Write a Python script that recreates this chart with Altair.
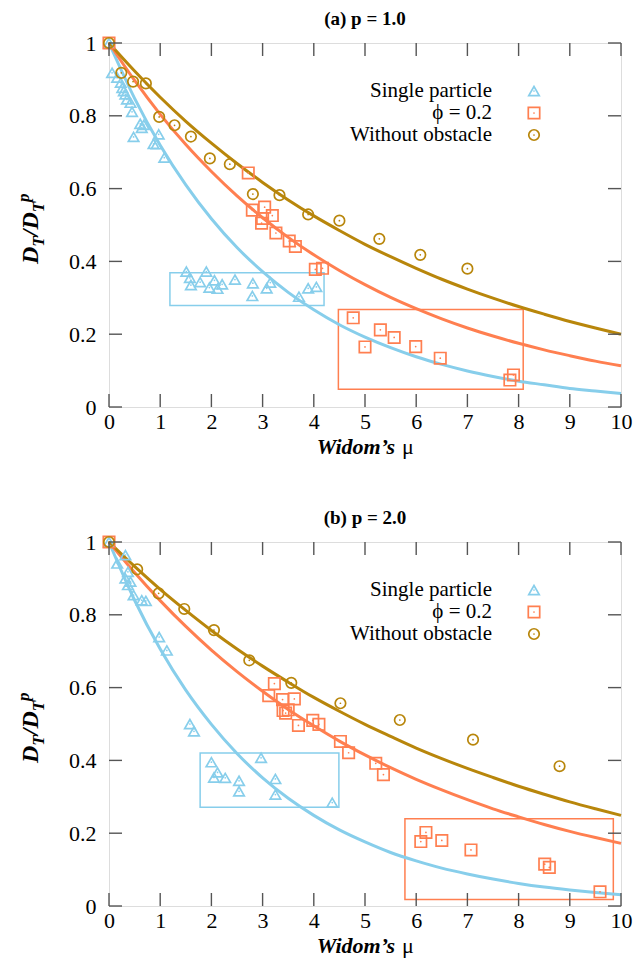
import altair as alt
import pandas as pd

FONT = "Liberation Serif, Times New Roman, Times, serif"
BLUE = "#87CEEB"
ORANGE = "#FF7F50"
GOLD = "#B8860B"
TICK = "#555555"
W, H = 512, 364

legend_labels = ["Single particle", "\u03d5 = 0.2", "Without obstacle"]
panel_titles = ["(a) p = 1.0", "(b) p = 2.0"]
x_ticks = [0, 1, 2, 3, 4, 5, 6, 7, 8, 9, 10]
y_ticks = [0, 0.2, 0.4, 0.6, 0.8, 1.0]

# fitted curves
curve_x = [0, 0.5, 1, 1.5, 2, 2.5, 3, 3.5, 4, 4.5, 5, 5.5, 6, 6.5, 7, 7.5, 8, 8.5, 9, 9.5, 10]
a_curve_single = [1.0, 0.848, 0.719, 0.610, 0.517, 0.438, 0.372, 0.315, 0.267, 0.226, 0.192,
                  0.163, 0.138, 0.117, 0.099, 0.084, 0.071, 0.061, 0.051, 0.044, 0.037]
a_curve_phi = [1.0, 0.897, 0.804, 0.721, 0.647, 0.580, 0.520, 0.466, 0.418, 0.375, 0.336,
               0.301, 0.270, 0.242, 0.217, 0.195, 0.175, 0.157, 0.141, 0.126, 0.113]
a_curve_free = [1.0, 0.923, 0.851, 0.785, 0.725, 0.669, 0.617, 0.569, 0.525, 0.485, 0.447,
                0.413, 0.381, 0.351, 0.324, 0.299, 0.276, 0.255, 0.235, 0.217, 0.200]
b_curve_single = [1.0, 0.840, 0.706, 0.593, 0.499, 0.419, 0.352, 0.296, 0.249, 0.209, 0.176,
                  0.147, 0.124, 0.104, 0.088, 0.074, 0.062, 0.052, 0.044, 0.037, 0.031]
b_curve_phi = [1.0, 0.916, 0.839, 0.768, 0.703, 0.644, 0.590, 0.540, 0.495, 0.453, 0.415,
               0.380, 0.348, 0.319, 0.292, 0.267, 0.245, 0.224, 0.205, 0.188, 0.172]
b_curve_free = [1.0, 0.933, 0.870, 0.812, 0.757, 0.706, 0.659, 0.615, 0.573, 0.535, 0.499,
                0.466, 0.434, 0.405, 0.378, 0.353, 0.329, 0.307, 0.286, 0.267, 0.249]

# (a) p = 1.0 data points
a_single_x = [0, 0.06, 0.16, 0.23, 0.26, 0.29, 0.32, 0.35, 0.42, 0.45, 0.61, 0.68, 0.64, 0.48,
              0.97, 0.87, 0.93, 1.08,
              1.51, 1.58, 1.60, 1.78, 1.90, 1.96, 2.06, 2.12, 2.21, 2.46, 2.81, 2.80, 3.08,
              3.15, 3.71, 3.89, 4.05]
a_single_y = [1.0, 0.918, 0.905, 0.891, 0.877, 0.868, 0.859, 0.845, 0.836, 0.811, 0.778, 0.775,
              0.767, 0.742, 0.749, 0.723, 0.722, 0.685,
              0.372, 0.355, 0.335, 0.343, 0.372, 0.328, 0.348, 0.325, 0.337, 0.350, 0.340,
              0.305, 0.326, 0.342, 0.303, 0.326, 0.330]
a_phi_x = [0, 2.72, 2.80, 3.04, 3.19, 2.98, 3.00, 3.26, 3.52, 3.64, 4.03, 4.17,
           4.77, 5.00, 5.30, 5.57, 5.99, 6.47, 7.90, 7.83]
a_phi_y = [1.0, 0.643, 0.541, 0.549, 0.526, 0.505, 0.518, 0.478, 0.456, 0.441, 0.378, 0.381,
           0.245, 0.165, 0.212, 0.191, 0.166, 0.134, 0.088, 0.074]
a_free_x = [0, 0.24, 0.47, 0.72, 0.98, 1.28, 1.60, 1.97, 2.36, 2.81, 3.33, 3.89, 4.50, 5.28,
            6.08, 7.00]
a_free_y = [1.0, 0.918, 0.894, 0.889, 0.797, 0.774, 0.743, 0.683, 0.667, 0.585, 0.582, 0.529,
            0.512, 0.462, 0.418, 0.380]
a_box_single = [1.19, 4.20, 0.279, 0.369]
a_box_phi = [4.48, 8.09, 0.049, 0.268]

# (b) p = 2.0 data points
b_single_x = [0, 0.32, 0.16, 0.37, 0.32, 0.42, 0.37, 0.48, 0.64, 0.72, 0.98, 1.13, 1.58, 1.66,
              2.00, 2.12, 2.05, 2.27, 2.54, 2.54, 2.97, 3.25, 3.25, 4.36]
b_single_y = [1.0, 0.964, 0.941, 0.918, 0.900, 0.891, 0.882, 0.854, 0.840, 0.838, 0.739, 0.702,
              0.500, 0.480, 0.395, 0.367, 0.353, 0.352, 0.344, 0.315, 0.407, 0.349, 0.306, 0.284]
b_phi_x = [0, 3.23, 3.12, 3.39, 3.62, 3.40, 3.50, 3.45, 3.70, 3.98, 4.10, 4.52, 4.68, 5.21,
           5.36, 6.19, 6.09, 6.50, 7.07, 8.51, 8.60, 9.59]
b_phi_y = [1.0, 0.611, 0.578, 0.567, 0.569, 0.537, 0.539, 0.530, 0.496, 0.510, 0.499, 0.452,
           0.421, 0.392, 0.361, 0.202, 0.177, 0.180, 0.154, 0.115, 0.106, 0.039]
b_free_x = [0, 0.55, 0.97, 1.47, 2.05, 2.74, 3.56, 4.52, 5.68, 7.11, 8.80]
b_free_y = [1.0, 0.925, 0.859, 0.816, 0.758, 0.675, 0.613, 0.557, 0.511, 0.457, 0.384]
b_box_single = [1.78, 4.49, 0.271, 0.420]
b_box_phi = [5.78, 9.85, 0.018, 0.240]

xs = alt.Scale(domain=[0, 10], nice=False, zero=False)
ys = alt.Scale(domain=[0, 1], nice=False, zero=False)
x_axis = alt.Axis(values=x_ticks, ticks=False, tickSize=0, domain=False, grid=False, title=None,
                  labelFont=FONT, labelFontSize=22, labelColor="black", labelPadding=4,
                  labelFlush=False)
y_axis = alt.Axis(values=y_ticks, ticks=False, tickSize=0, domain=False, grid=False, title=None,
                  labelFont=FONT, labelFontSize=22, labelColor="black", labelPadding=13,
                  format=".1~f", labelFlush=False)
one = pd.DataFrame({"k": [0]})


def X(field="x"):
    return alt.X(f"{field}:Q", scale=xs, axis=x_axis)


def Y(field="y"):
    return alt.Y(f"{field}:Q", scale=ys, axis=y_axis)


def curve(yvals, color):
    df = pd.DataFrame({"x": curve_x, "y": yvals})
    return alt.Chart(df).mark_line(color=color, strokeWidth=3, interpolate="monotone").encode(x=X(), y=Y())


def points(xv, yv, shape, size, color):
    df = pd.DataFrame({"x": xv, "y": yv})
    base = alt.Chart(df)
    outer = base.mark_point(shape=shape, filled=False, size=size, strokeWidth=1.7,
                            color=color, opacity=1).encode(x=X(), y=Y())
    dot = base.mark_point(shape="circle", filled=True, size=3, color=color,
                          opacity=1).encode(x=X(), y=Y())
    return outer + dot


def box(b, color):
    df = pd.DataFrame({"x1": [b[0]], "x2": [b[1]], "y1": [b[2]], "y2": [b[3]]})
    return alt.Chart(df).mark_rect(fillOpacity=0, stroke=color, strokeWidth=1.5).encode(
        x=X("x1"), x2="x2", y=Y("y1"), y2="y2")


def ticks():
    dx = pd.DataFrame({"t": x_ticks})
    dy = pd.DataFrame({"t": y_ticks})
    r = dict(color=TICK, strokeWidth=1.4)
    bx = alt.Chart(dx).mark_rule(**r).encode(x=alt.X("t:Q", scale=xs, axis=x_axis), y=alt.value(H), y2=alt.value(H - 13))
    tx = alt.Chart(dx).mark_rule(**r).encode(x=alt.X("t:Q", scale=xs, axis=x_axis), y=alt.value(0), y2=alt.value(13))
    ly = alt.Chart(dy).mark_rule(**r).encode(y=alt.Y("t:Q", scale=ys, axis=y_axis), x=alt.value(0), x2=alt.value(13))
    ry = alt.Chart(dy).mark_rule(**r).encode(y=alt.Y("t:Q", scale=ys, axis=y_axis), x=alt.value(W), x2=alt.value(W - 13))
    return [bx, tx, ly, ry]


def text(s, x, y, size=22, weight="normal", style="normal", align="left", angle=0, baseline="alphabetic"):
    return alt.Chart(one).mark_text(text=s, font=FONT, fontSize=size, fontWeight=weight,
                                    fontStyle=style, align=align, baseline=baseline, angle=angle,
                                    color="black").encode(x=alt.value(x), y=alt.value(y))


def legend():
    layers = []
    shapes = [("triangle-up", 110, BLUE), ("square", 130, ORANGE), ("circle", 110, GOLD)]
    rows = [48, 70, 92]
    for lab, (shp, sz, col), ry in zip(legend_labels, shapes, rows):
        layers.append(text(lab, 383, ry, size=21, baseline="middle", align="right"))
        layers.append(alt.Chart(one).mark_point(shape=shp, filled=False, size=sz, strokeWidth=1.7,
                                                color=col, opacity=1).encode(x=alt.value(425), y=alt.value(ry)))
        layers.append(alt.Chart(one).mark_point(shape="circle", filled=True, size=3, color=col,
                                                opacity=1).encode(x=alt.value(425), y=alt.value(ry)))
    return layers


def axis_titles():
    it = dict(weight="bold", style="italic", angle=270)
    ys0 = 221
    return [
        text("Widom\u2019s", 286, H + 47, weight="bold", style="italic", align="right"),
        text("\u03bc", 293, H + 47, align="left"),
        text("D", -71, ys0, size=24, **it),
        text("T", -65, ys0 - 17.3, size=17, **it),
        text("/", -71, ys0 - 27.7, size=24, **it),
        text("D", -71, ys0 - 34.4, size=24, **it),
        text("T", -65, ys0 - 51.7, size=17, **it),
        text("p", -80, ys0 - 62.1, size=17, **it),
    ]


def panel(title, curves, pts, boxes, anchor=False):
    layers = []
    if anchor:
        layers.append(alt.Chart(one).mark_rule(color="white", strokeWidth=1).encode(
            x=alt.value(-100), x2=alt.value(-99), y=alt.value(-35), y2=alt.value(-34)))
    layers += [box(b, c) for b, c in boxes]
    layers += [curve(cv, c) for cv, c in curves]
    layers += [points(px, py, s, sz, c) for px, py, s, sz, c in pts]
    layers += ticks()
    layers += legend()
    layers += axis_titles()
    layers.append(text(title, W / 2, -24, size=19, weight="bold", align="center", baseline="middle"))
    return alt.layer(*layers).properties(width=W, height=H)


top = panel(
    panel_titles[0],
    [(a_curve_single, BLUE), (a_curve_phi, ORANGE), (a_curve_free, GOLD)],
    [(a_single_x, a_single_y, "triangle-up", 110, BLUE),
     (a_phi_x, a_phi_y, "square", 130, ORANGE),
     (a_free_x, a_free_y, "circle", 110, GOLD)],
    [(a_box_single, BLUE), (a_box_phi, ORANGE)],
    anchor=True,
)
bottom = panel(
    panel_titles[1],
    [(b_curve_single, BLUE), (b_curve_phi, ORANGE), (b_curve_free, GOLD)],
    [(b_single_x, b_single_y, "triangle-up", 110, BLUE),
     (b_phi_x, b_phi_y, "square", 130, ORANGE),
     (b_free_x, b_free_y, "circle", 110, GOLD)],
    [(b_box_single, BLUE), (b_box_phi, ORANGE)],
)

chart = alt.vconcat(top, bottom, spacing=135, bounds="flush").properties(
    padding={"left": 0, "top": -1, "right": 0, "bottom": 0}
).configure_view(stroke="black", strokeWidth=1.5).configure(background="white")

chart.save("out.html", embed_options={"renderer": "svg", "actions": False})
